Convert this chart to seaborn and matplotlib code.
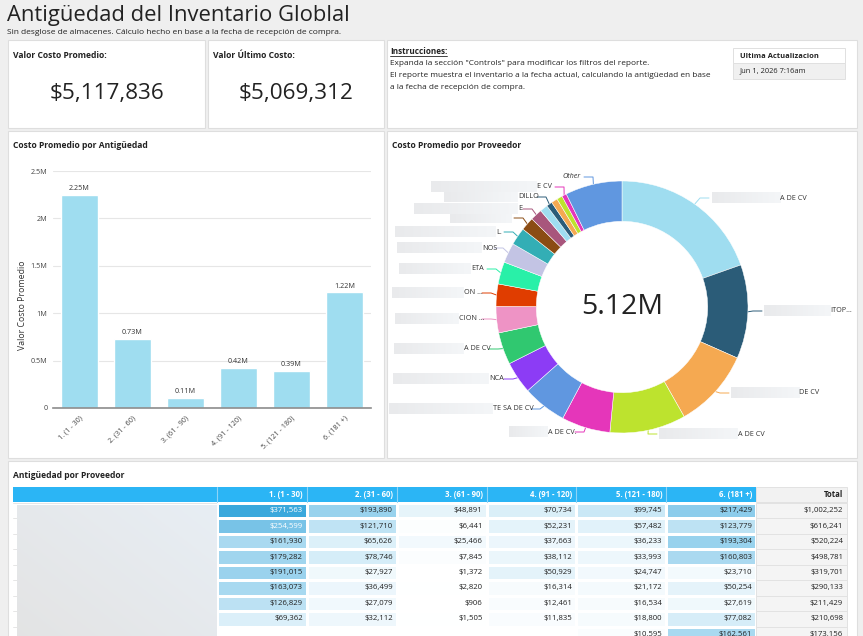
import numpy as np
import pandas as pd
import matplotlib
matplotlib.use("Agg")
import matplotlib.pyplot as plt
import seaborn as sns
from matplotlib.colors import LinearSegmentedColormap
from matplotlib.patches import Rectangle

# ---------------- data ----------------
kpi_labels = ["Valor Costo Promedio:", "Valor Último Costo:"]
kpi_values = [5117836, 5069312]

age_buckets = ["1. (1 - 30)", "2. (31 - 60)", "3. (61 - 90)",
               "4. (91 - 120)", "5. (121 - 180)", "6. (181 +)"]
age_cost = [2.25e6, 0.73e6, 0.11e6, 0.42e6, 0.39e6, 1.22e6]

# donut: top suppliers (clockwise from 12 o'clock) + "Other"
supplier_cost = [1002252, 616241, 520224, 498781, 319701, 290133, 211429, 210698, 173156,
                 146000, 146000, 131000, 115000, 88000, 78000, 51000, 38000, 41000,
                 37000, 31000, 373000]
palette15 = ["#9FDDF0", "#2B5C78", "#F5A951", "#BDE32E", "#E536BA", "#6097E0", "#8C3CF5",
             "#30C870", "#EE93C5", "#E03D00", "#29F0A8", "#C3C4E4", "#33AEB5", "#8B4C13",
             "#A8567C"]
supplier_colors = (palette15 + palette15)[:20] + ["#6097E0"]

# table: one list per age bucket (rows = suppliers, names redacted)
t_1_30 = [371563, 254599, 161930, 179282, 191015, 163073, 126829, 69362, np.nan]
t_31_60 = [193890, 121710, 65626, 78746, 27927, 36499, 27079, 32112, np.nan]
t_61_90 = [48891, 6441, 25466, 7845, 1372, 2820, 906, 1505, np.nan]
t_91_120 = [70734, 52231, 37663, 38112, 50929, 16314, 12461, 11835, np.nan]
t_121_180 = [99745, 57482, 36233, 33993, 24747, 21172, 16534, 18800, 10595]
t_181 = [217429, 123779, 193304, 160803, 23710, 50254, 27619, 77082, 162561]
t_total = [1002252, 616241, 520224, 498781, 319701, 290133, 211429, 210698, 173156]

# ---------------- layout helpers ----------------
W, H = 863, 636
BG = "#EFEFEF"
DARK = "#222222"

sns.set_theme(style="white")
plt.rcParams["font.family"] = ["Open Sans", "DejaVu Sans"]

fig = plt.figure(figsize=(W / 100, H / 100), dpi=100)
fig.patch.set_facecolor(BG)


def rect_ax(x0, y0, x1, y1, **kw):
    return fig.add_axes([x0 / W, 1 - y1 / H, (x1 - x0) / W, (y1 - y0) / H], **kw)


canvas = fig.add_axes([0, 0, 1, 1], zorder=0)
canvas.set_xlim(0, W)
canvas.set_ylim(H, 0)
canvas.axis("off")

panels = [(8, 40, 205, 128), (208, 40, 384, 128), (387, 40, 857, 128),
          (8, 131, 384, 458), (387, 131, 857, 458), (8, 461, 857, 660)]
for x0, y0, x1, y1 in panels:
    canvas.add_patch(Rectangle((x0, y0), x1 - x0, y1 - y0, facecolor="white",
                               edgecolor="#DEDEDE", lw=0.8))

canvas.text(7, 15, "Antigüedad del Inventario Globlal", fontsize=15.8, color=DARK, va="center")
canvas.text(7, 33, "Sin desglose de almacenes. Cálculo hecho en base a la fecha de recepción de compra.",
            fontsize=6.0, color=DARK, va="center")

# KPI boxes
for (x0, x1), lab, val in zip([(8, 205), (208, 384)], kpi_labels, kpi_values):
    canvas.text(x0 + 5, 56, lab, fontsize=6.1, fontweight="bold", color=DARK, va="center")
    canvas.text((x0 + x1) / 2, 94, f"${val:,}", fontsize=16.2, color=DARK, va="center", ha="center")

# instructions
t_ins = canvas.text(390, 51, "Instrucciones:", fontsize=5.9, fontweight="bold", color=DARK, va="center")
ins_lines = ['Expanda la sección "Controls" para modificar los filtros del reporte.',
             "El reporte muestra el inventario a la fecha actual, calculando la antigüedad en base",
             "a la fecha de recepción de compra."]
for i, line in enumerate(ins_lines):
    canvas.text(390, 63.5 + i * 11.8, line, fontsize=5.95, color=DARK, va="center")
fig.canvas.draw()
bb = t_ins.get_window_extent().transformed(canvas.transData.inverted())
canvas.plot([bb.x0, bb.x1], [bb.y0 + 0.5, bb.y0 + 0.5], color=DARK, lw=0.6)

canvas.add_patch(Rectangle((733, 48), 112, 15, facecolor="white", edgecolor="#E0E0E0", lw=0.7))
canvas.add_patch(Rectangle((733, 63), 112, 16, facecolor="#F0F0F0", edgecolor="#E0E0E0", lw=0.7))
canvas.text(740, 56, "Ultima Actualizacion", fontsize=5.4, fontweight="bold", color=DARK, va="center")
canvas.text(740, 71, "Jun 1, 2026 7:16am", fontsize=5.4, color=DARK, va="center")

# panel titles
canvas.text(13, 146, "Costo Promedio por Antigüedad", fontsize=6.1, fontweight="bold", color=DARK, va="center")
canvas.text(392, 146, "Costo Promedio por Proveedor", fontsize=6.1, fontweight="bold", color=DARK, va="center")
canvas.text(13, 475, "Antigüedad por Proveedor", fontsize=6.1, fontweight="bold", color=DARK, va="center")

# ---------------- bar chart ----------------
axb = rect_ax(53, 171, 371, 408, zorder=1)
df_age = pd.DataFrame({"bucket": age_buckets, "cost": age_cost})
sns.barplot(data=df_age, x="bucket", y="cost", color="#9FDDF0", saturation=1, width=0.68, ax=axb)
axb.set_facecolor("none")
axb.bar_label(axb.containers[0], labels=[f"{v / 1e6:.2f}M" for v in age_cost],
              fontsize=5.2, padding=2, color="#333333")
axb.set_ylim(0, 2.5e6)
axb.set_xlim(-0.5, len(age_buckets) - 0.5)
axb.set_yticks(np.arange(0, 2.51e6, 0.5e6))
axb.set_yticklabels(["0" if v == 0 else f"{v / 1e6:g}M" for v in axb.get_yticks()])
axb.set_xticks(np.arange(-0.5, len(age_buckets), 1), minor=True)
axb.set_xticklabels(age_buckets, rotation=45, ha="right", rotation_mode="anchor")
axb.tick_params(axis="x", which="major", length=0, pad=5, labelsize=5.2, labelcolor="#444444")
axb.tick_params(axis="x", which="minor", length=3, width=0.8, color="#8C8C8C")
axb.tick_params(axis="y", length=0, pad=4, labelsize=5.2, labelcolor="#444444")
axb.yaxis.grid(True, color="#E6E6E6", lw=0.8)
axb.set_axisbelow(True)
for s in ["left", "right", "top"]:
    axb.spines[s].set_visible(False)
axb.spines["bottom"].set_color("#8C8C8C")
axb.spines["bottom"].set_linewidth(1.2)
axb.set_xlabel("")
axb.set_ylabel("Valor Costo Promedio", fontsize=6.3, color="#333333")
axb.yaxis.set_label_coords(-0.083, 0.435)

# ---------------- donut ----------------
R, CX, CY = 126, 622, 307
axd = rect_ax(387, 131, 857, 458, zorder=1)
wedges, _ = axd.pie(supplier_cost, colors=supplier_colors, startangle=90, counterclock=False,
                    radius=1, wedgeprops=dict(width=0.32, edgecolor="white", linewidth=0.35))
axd.set_xlim((387 - CX) / R, (857 - CX) / R)
axd.set_ylim((CY - 458) / R, (CY - 131) / R)
axd.set_aspect("auto")
axd.axis("off")
axd.text(0, 0, f"{sum(supplier_cost) / 1e6:.2f}M", fontsize=20.5, color=DARK, ha="center", va="center")

# label layout: slice, label y, mask x0, mask x1, visible text, leader end x
donut_labels = [
    (0, 198, 712, 780, "A DE CV", 709),
    (1, 311, 764, 830, "ITOP...", 762),
    (2, 393, 731, 799, "DE CV", 729),
    (3, 434, 659, 738, "A DE CV", 657),
    (4, 432, 509, 548, "A DE CV.", 575),
    (5, 409, 389, 493, "TE SA DE CV", 531),
    (6, 379, 393, 489, "NCA", 504),
    (7, 349, 394, 464, "A DE CV", 489),
    (8, 319, 395, 459, "CION ...", 482),
    (9, 293, 392, 464, "ON ...", 482),
    (10, 269, 399, 471, "ETA", 487),
    (11, 248, 397, 482, "NOS", 494),
    (12, 232, 395, 496, "L.", 504),
    (13, 218, 450, 512, "", 514),
    (14, 209, 414, 518, "E", 523),
    (16, 197, 444, 518, "DILLO", 537),
    (19, 187, 431, 537, "E CV", 555),
    (20, 177, None, None, "Other", 584),
]
to_canvas = axd.transData + canvas.transData.inverted()
for idx, ly, mx0, mx1, txt, lx in donut_labels:
    w = wedges[idx]
    mid = np.deg2rad((w.theta1 + w.theta2) / 2)
    ax_pt, ay_pt = to_canvas.transform((np.cos(mid), np.sin(mid)))
    side = 1 if lx > ax_pt else -1
    canvas.plot([ax_pt, lx - side * 9, lx], [ay_pt, ly, ly], color=supplier_colors[idx], lw=0.7)
    if mx0 is not None:
        grad = np.linspace(0, 1, 64).reshape(1, -1)
        canvas.imshow(grad, extent=(mx0, mx1, ly + 5.5, ly - 5.5), aspect="auto",
                      cmap=LinearSegmentedColormap.from_list("blur", ["#E9EAEC", "#F4F6F8"]),
                      interpolation="bilinear", zorder=2)
        canvas.text(mx1, ly, txt, fontsize=5.2, color="#333333", va="center", ha="left")
    else:
        canvas.text(lx - 3, ly, txt, fontsize=5.2, color="#333333", va="center", ha="right",
                    style="italic")
canvas.set_xlim(0, W)
canvas.set_ylim(H, 0)

# ---------------- table ----------------
cols = age_buckets
df_tab = pd.DataFrame(dict(zip(cols, [t_1_30, t_31_60, t_61_90, t_91_120, t_121_180, t_181])))
n_rows = len(df_tab)
ROW0, ROWH = 503, 15.45
COLX = [217, 756]
vmax = np.nanmax(df_tab.values)

# header
canvas.add_patch(Rectangle((13, 487), 756 - 13, 15, facecolor="#2BB5F5", edgecolor="none"))
col_w = (COLX[1] - COLX[0]) / len(cols)
for j, c in enumerate(cols):
    xr = COLX[0] + (j + 1) * col_w
    canvas.plot([COLX[0] + j * col_w] * 2, [487, 502], color="#8ED4F7", lw=0.8)
    canvas.text(xr - 4, 494.5, c, fontsize=5.6, fontweight="bold", color="white", ha="right", va="center")
canvas.add_patch(Rectangle((756, 487), 91, 15, facecolor="#F2F2F2", edgecolor="#E2E2E2", lw=0.7))
canvas.text(843, 494.5, "Total", fontsize=5.6, fontweight="bold", color=DARK, ha="right", va="center")

# total column + row lines + redacted names
for i, tot in enumerate(t_total):
    y0 = ROW0 + i * ROWH
    canvas.add_patch(Rectangle((756, y0), 91, ROWH, facecolor="#F4F4F4", edgecolor="#E2E2E2", lw=0.7))
    canvas.text(843, y0 + ROWH / 2, f"${tot:,}", fontsize=5.6, color=DARK, ha="right", va="center")
    canvas.plot([13, 217], [y0, y0], color="#E6E6E6", lw=0.7)
grad2 = np.add.outer(np.linspace(0, 1, 32), np.linspace(1, 0, 32)) / 2
canvas.imshow(grad2, extent=(17, 216, 660, 505), aspect="auto",
              cmap=LinearSegmentedColormap.from_list("blur2", ["#E8EEF4", "#E3E3E3"]),
              interpolation="bilinear", zorder=2)
canvas.set_xlim(0, W)
canvas.set_ylim(H, 0)

axt = rect_ax(COLX[0], ROW0, COLX[1], ROW0 + n_rows * ROWH, zorder=1)
annot = np.vectorize(lambda v: "" if np.isnan(v) else f"${v:,.0f}")(df_tab.values)
cmap = LinearSegmentedColormap.from_list("cells", ["#FFFFFF", "#3AA8DC"])
sns.heatmap(df_tab, annot=annot, fmt="", cmap=cmap, vmin=0, vmax=vmax, cbar=False,
            linewidths=1, linecolor="white", xticklabels=False, yticklabels=False,
            annot_kws={"fontsize": 5.6}, ax=axt)
axt.set_facecolor("white")
vals = [v for v in df_tab.values.flatten() if not np.isnan(v)]
for t, v in zip(axt.texts, vals):
    x, y = t.get_position()
    t.set_x(x + 0.5 - 4 / col_w)
    t.set_ha("right")
    t.set_color("white" if v > 250000 else DARK)
for i in range(n_rows + 1):
    axt.axhline(i, color="#E6E6E6", lw=0.6, zorder=0)

fig.savefig("out.png", dpi=100, facecolor=fig.get_facecolor())
